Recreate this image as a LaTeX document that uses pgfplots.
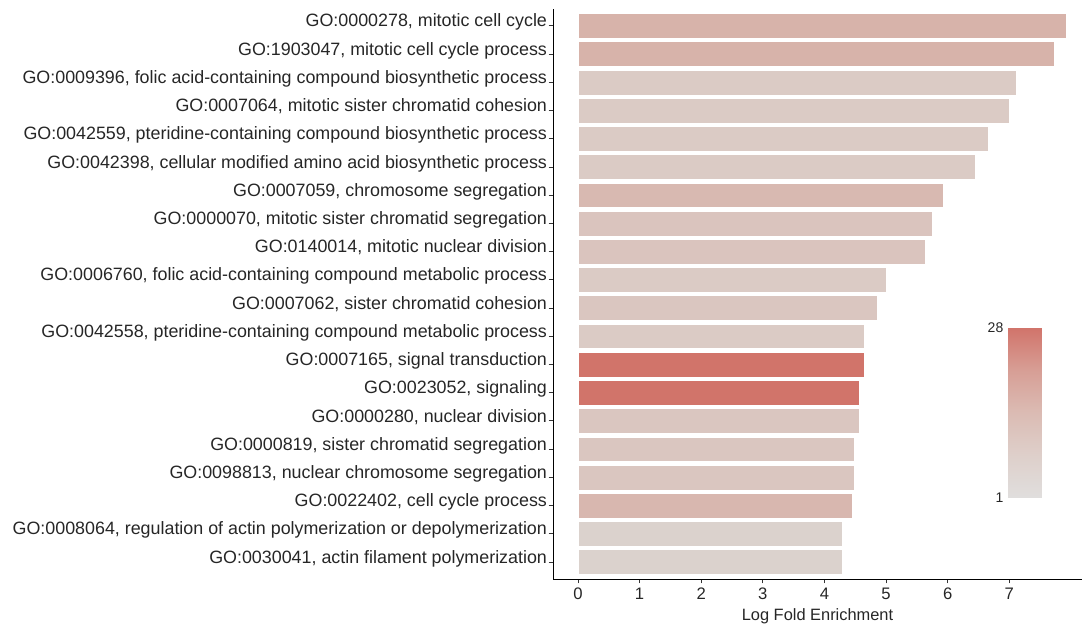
\documentclass[border=0pt]{standalone}
\usepackage{fontspec}
\setmainfont{Liberation Sans}
\usepackage{pgfplots}
\pgfplotsset{compat=1.18}

% fill colours of the bars (gene count, light grey = few, red = many)
\definecolor{cA}{RGB}{215,179,170}
\definecolor{cB}{RGB}{219,203,197}
\definecolor{cC}{RGB}{216,185,177}
\definecolor{cD}{RGB}{218,196,190}
\definecolor{cE}{RGB}{218,198,192}
\definecolor{cF}{RGB}{209,116,106}
\definecolor{cG}{RGB}{216,183,175}
\definecolor{cH}{RGB}{219,210,205}

\pgfplotsset{
  gobar/.style={xbar, bar shift=0pt, bar width=0.88, draw=white, line width=0.4pt, fill=#1},
}

\begin{document}
\begin{tikzpicture}
\useasboundingbox (0,0) rectangle (813pt,468.75pt);
\begin{axis}[
  at={(414.75pt,34.5pt)}, anchor=south west,
  scale only axis, width=396.75pt, height=427.5pt,
  xmin=-0.406, xmax=8.18, ymin=-0.6, ymax=19.6,
  axis x line=bottom, axis y line=left,
  axis line style={-, line width=0.75pt, black},
  xtick={0,...,7}, ytick={0,...,19},
  yticklabels={
    {GO:0030041, actin filament polymerization},
    {GO:0008064, regulation of actin polymerization or depolymerization},
    {GO:0022402, cell cycle process},
    {GO:0098813, nuclear chromosome segregation},
    {GO:0000819, sister chromatid segregation},
    {GO:0000280, nuclear division},
    {GO:0023052, signaling},
    {GO:0007165, signal transduction},
    {GO:0042558, pteridine-containing compound metabolic process},
    {GO:0007062, sister chromatid cohesion},
    {GO:0006760, folic acid-containing compound metabolic process},
    {GO:0140014, mitotic nuclear division},
    {GO:0000070, mitotic sister chromatid segregation},
    {GO:0007059, chromosome segregation},
    {GO:0042398, cellular modified amino acid biosynthetic process},
    {GO:0042559, pteridine-containing compound biosynthetic process},
    {GO:0007064, mitotic sister chromatid cohesion},
    {GO:0009396, folic acid-containing compound biosynthetic process},
    {GO:1903047, mitotic cell cycle process},
    {GO:0000278, mitotic cell cycle}},
  tick align=outside, major tick length=3.2pt,
  tick style={line width=0.75pt, color=black!80},
  xticklabel style={font=\fontsize{12.5}{14}\selectfont, text=black!85},
  yticklabel style={font=\fontsize{13.4}{15}\selectfont, text=black!85,
    anchor=base east, xshift=2.2pt, yshift=-0.8pt},
  /pgf/number format/assume math mode=true,
  xlabel={Log Fold Enrichment},
  xlabel style={font=\fontsize{12.3}{14}\selectfont, text=black!85},
]
\addplot[gobar=cA] coordinates {(7.93,19)};
\addplot[gobar=cA] coordinates {(7.73,18)};
\addplot[gobar=cB] coordinates {(7.12,17)};
\addplot[gobar=cB] coordinates {(7.00,16)};
\addplot[gobar=cB] coordinates {(6.66,15)};
\addplot[gobar=cB] coordinates {(6.45,14)};
\addplot[gobar=cC] coordinates {(5.93,13)};
\addplot[gobar=cD] coordinates {(5.75,12)};
\addplot[gobar=cD] coordinates {(5.63,11)};
\addplot[gobar=cB] coordinates {(5.01,10)};
\addplot[gobar=cE] coordinates {(4.86,9)};
\addplot[gobar=cB] coordinates {(4.64,8)};
\addplot[gobar=cF] coordinates {(4.64,7)};
\addplot[gobar=cF] coordinates {(4.57,6)};
\addplot[gobar=cE] coordinates {(4.56,5)};
\addplot[gobar=cE] coordinates {(4.48,4)};
\addplot[gobar=cE] coordinates {(4.48,3)};
\addplot[gobar=cG] coordinates {(4.45,2)};
\addplot[gobar=cH] coordinates {(4.29,1)};
\addplot[gobar=cH] coordinates {(4.29,0)};
\end{axis}

% colour key for the gene count
\begin{axis}[
  at={(756pt,95.8pt)}, anchor=south west,
  scale only axis, width=25.3pt, height=127.5pt,
  view={0}{90},
  xmin=0, xmax=1, ymin=1, ymax=28, enlargelimits=false,
  axis line style={draw=none},
  xtick=\empty, ytick={1,28}, ztick=\empty,
  major tick length=0pt,
  yticklabel style={font=\fontsize{10.5}{12}\selectfont, text=black!85},
  /pgf/number format/assume math mode=true,
  colormap={countmap}{rgb255=(224,222,221) rgb255=(222,207,202) rgb255=(219,187,179) rgb255=(215,158,149) rgb255=(209,115,106)},
]
\addplot3[surf, shader=interp, point meta=z] coordinates {
(0,1,1) (1,1,1)

(0,28,28) (1,28,28)
};
\end{axis}
\end{tikzpicture}
\end{document}
